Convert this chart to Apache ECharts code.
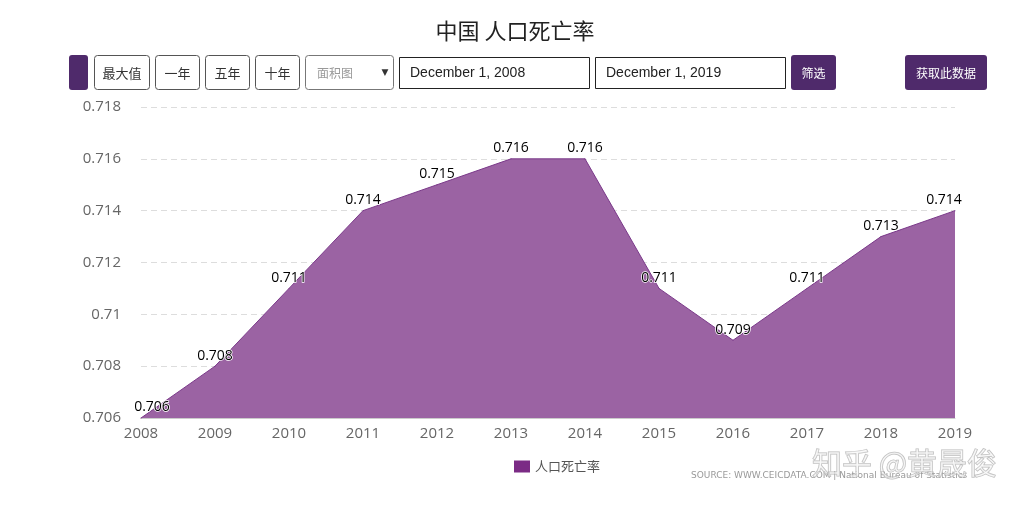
<!DOCTYPE html>
<html><head><meta charset="utf-8">
<script src="https://cdn.jsdelivr.net/npm/echarts@6/dist/echarts.min.js"></script>
<style>html,body{margin:0;padding:0;background:#fff}#c{width:1030px;height:506px}</style>
</head><body><div id="c"></div>
<script>
const years = ['2008','2009','2010','2011','2012','2013','2014','2015','2016','2017','2018','2019'];
const deathRate = [0.706,0.708,0.711,0.714,0.715,0.716,0.716,0.711,0.709,0.711,0.713,0.714];
const seriesName = '人口死亡率';
const titleText = '中国 人口死亡率';
const buttons = ['最大值','一年','五年','十年'];
const startDate = 'December 1, 2008';
const endDate = 'December 1, 2019';
const sourceText = 'SOURCE: WWW.CEICDATA.COM | National Bureau of Statistics';
const watermark = '知乎 @黄晟俊';

const purple = '#4f2a6b';
const btnX = [94,155,205,255];
const btnW = [55,44,44,44];
const g = [];
g.push({type:'rect',shape:{x:69,y:55,width:19,height:35,r:3},style:{fill:purple}});
buttons.forEach((b,i)=>{
  g.push({type:'rect',shape:{x:btnX[i]+0.5,y:55.5,width:btnW[i],height:34,r:3},style:{fill:'#fff',stroke:'#555',lineWidth:1}});
  g.push({type:'text',x:btnX[i]+btnW[i]/2+0.5,y:73,style:{text:b,font:'13px "Noto Sans CJK SC"',fill:'#333',align:'center',verticalAlign:'middle'}});
});
g.push({type:'rect',shape:{x:305.5,y:55.5,width:88,height:34,r:3},style:{fill:'#fff',stroke:'#777',lineWidth:1}});
g.push({type:'text',x:317,y:73,style:{text:'面积图',font:'12px "Noto Sans CJK SC"',fill:'#999',verticalAlign:'middle'}});
g.push({type:'text',x:385,y:73,style:{text:'▼',font:'9px "DejaVu Sans"',fill:'#333',align:'center',verticalAlign:'middle'}});
g.push({type:'rect',shape:{x:399.5,y:57.5,width:190,height:31},style:{fill:'#fff',stroke:'#222',lineWidth:1}});
g.push({type:'text',x:410,y:73,style:{text:startDate,font:'14px "Liberation Sans"',fill:'#222',verticalAlign:'middle'}});
g.push({type:'rect',shape:{x:595.5,y:57.5,width:190,height:31},style:{fill:'#fff',stroke:'#222',lineWidth:1}});
g.push({type:'text',x:606,y:73,style:{text:endDate,font:'14px "Liberation Sans"',fill:'#222',verticalAlign:'middle'}});
g.push({type:'rect',shape:{x:791,y:55,width:45,height:35,r:3},style:{fill:purple}});
g.push({type:'text',x:813.5,y:73,style:{text:'筛选',font:'12px "Noto Sans CJK SC"',fill:'#fff',align:'center',verticalAlign:'middle'}});
g.push({type:'rect',shape:{x:905,y:55,width:82,height:35,r:3},style:{fill:purple}});
g.push({type:'text',x:946,y:73,style:{text:'获取此数据',font:'12px "Noto Sans CJK SC"',fill:'#fff',align:'center',verticalAlign:'middle'}});
g.push({type:'text',x:691,y:476,style:{text:sourceText,font:'9px "DejaVu Sans"',fill:'#999',verticalAlign:'middle'}});
g.push({type:'text',x:812,y:463,z:100,style:{text:watermark,font:'30px "Noto Sans CJK SC"',fill:'rgba(245,245,245,0.5)',stroke:'rgba(170,170,170,0.8)',lineWidth:1,verticalAlign:'middle'}});

const lastIdx = deathRate.length - 1;

const chart = echarts.init(document.getElementById('c'));
chart.setOption({
  animation:false,
  title:{text:titleText,left:'center',top:15,textStyle:{fontSize:22,fontWeight:'normal',color:'#222',fontFamily:'Noto Sans CJK SC'}},
  legend:{bottom:28,left:509,itemWidth:16,itemHeight:12,icon:'rect',itemGap:6,
    textStyle:{color:'#555',fontSize:13,fontFamily:'Noto Sans CJK SC'},data:[{name:seriesName,itemStyle:{color:'#7b2b85',opacity:1}}]},
  grid:{left:141,right:75,top:107,bottom:88},
  xAxis:{type:'category',data:years,boundaryGap:false,
    axisLine:{show:true,lineStyle:{color:'#ccc'}},axisTick:{show:false},
    axisLabel:{color:'#666',fontSize:15,fontFamily:'Open Sans',margin:8}},
  yAxis:{type:'value',min:0.706,max:0.718,interval:0.002,
    axisLine:{show:false},axisTick:{show:false},
    splitLine:{lineStyle:{color:'#ddd',type:[6,4]}},
    axisLabel:{color:'#666',fontSize:15,fontFamily:'Open Sans',margin:20,formatter:v=>String(parseFloat(v.toFixed(3)))}},
  series:[{name:seriesName,type:'line',data:deathRate,symbol:'circle',symbolSize:1,showSymbol:true,
    itemStyle:{color:'#7b3a8a'},
    lineStyle:{color:'#7b3a8a',width:1},
    areaStyle:{color:'#9b63a3',opacity:1},
    labelLayout:p=>({hideOverlap:false,dx:p.dataIndex===0?11:(p.dataIndex===lastIdx?-11:0)}),
    label:{show:true,position:'top',distance:3,color:'#000',fontSize:14,fontFamily:'Open Sans',textBorderColor:'#fff',textBorderWidth:1.5,formatter:p=>p.value.toFixed(3)}}],
  graphic:g
});
</script></body></html>
